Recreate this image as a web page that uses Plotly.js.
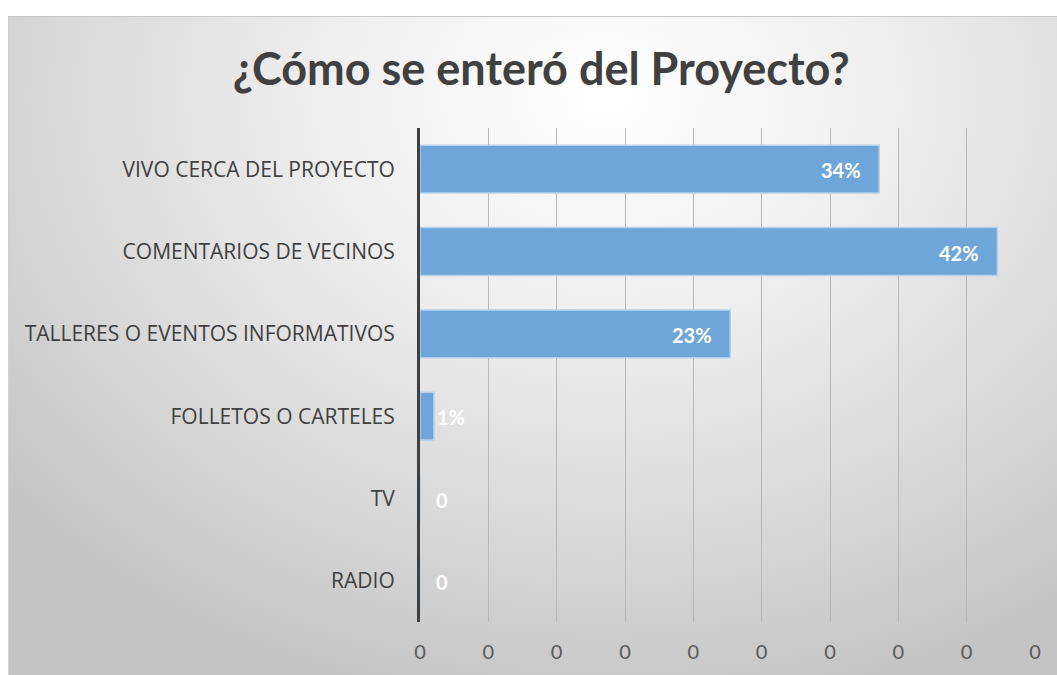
<!DOCTYPE html>
<html>
<head>
<meta charset="utf-8">
<script src="https://cdn.plot.ly/plotly-3.0.1.min.js"></script>
<style>
  html, body { margin: 0; padding: 0; background: #ffffff; }
  #wrap { position: relative; width: 1057px; height: 675px; overflow: hidden; }
  #bg { position: absolute; left: 8px; top: 16px; width: 1049px; height: 659px;
        border-top: 1px solid #c8c8c8; border-left: 1px solid #d0d0d0; box-sizing: border-box;
        background: radial-gradient(ellipse 75% 95% at 57% 12%, #ffffff 0%, #efefef 35%, #d9d9d9 70%, #c4c4c4 100%); }
  #chart { position: absolute; left: 0; top: 0; width: 1057px; height: 675px; }
</style>
</head>
<body>
<div id="wrap">
  <div id="bg"></div>
  <div id="chart"></div>
</div>
<script>
const categories = ["VIVO CERCA DEL PROYECTO", "COMENTARIOS DE VECINOS", "TALLERES O EVENTOS INFORMATIVOS", "FOLLETOS O CARTELES", "TV", "RADIO"];
const values = [0.336, 0.4225, 0.227, 0.0102, 0, 0];
const valueLabels = ["34%", "42%", "23%", "1%", "0", "0"];
const xTicks = [0, 0.05, 0.10, 0.15, 0.20, 0.25, 0.30, 0.35, 0.40, 0.45];

const labelFont = { family: "Lato, 'Open Sans', sans-serif", size: 20, color: "#ffffff", weight: "bold" };

const trace = {
  type: "bar",
  orientation: "h",
  y: categories,
  x: values,
  marker: { color: "#6fa6d9", line: { color: "#b4d2ee", width: 1.5 } },
  hoverinfo: "skip"
};

// data labels: inside-end for wide bars, just outside for tiny / zero bars
const annotations = categories.map((c, i) => {
  const v = values[i];
  let anchor, shift;
  if (v > 0.05) { anchor = "right"; shift = -16; }
  else if (v > 0) { anchor = "left"; shift = 1; }
  else { anchor = "left"; shift = 14; }
  return {
    x: v, y: c, xref: "x", yref: "y",
    text: valueLabels[i], showarrow: false,
    xanchor: anchor, xshift: shift, yshift: -1,
    font: labelFont
  };
});

const layout = {
  width: 1057, height: 675,
  paper_bgcolor: "rgba(0,0,0,0)",
  plot_bgcolor: "rgba(0,0,0,0)",
  margin: { l: 420, r: 22, t: 128, b: 53 },
  bargap: 0.42,
  showlegend: false,
  annotations: annotations,
  title: {
    text: "¿Cómo se enteró del Proyecto?",
    x: 0.512, xanchor: "center", y: 0.898, yanchor: "middle",
    font: { family: "Lato, 'Open Sans', sans-serif", size: 45, color: "#404040", weight: "bold" }
  },
  xaxis: {
    range: [0, 0.45],
    tickvals: xTicks,
    tickformat: ".0f",
    showgrid: true, gridcolor: "#b8b8b8", gridwidth: 1,
    zeroline: false, showline: false,
    ticks: "outside", ticklen: 12, tickcolor: "rgba(0,0,0,0)",
    tickfont: { family: "Lato, 'Open Sans', sans-serif", size: 20, color: "#595959" },
    fixedrange: true
  },
  yaxis: {
    type: "category",
    categoryorder: "array",
    categoryarray: categories,
    autorange: "reversed",
    showgrid: false, zeroline: false,
    showline: true, linecolor: "#404040", linewidth: 3,
    ticks: "outside", ticklen: 18, tickcolor: "rgba(0,0,0,0)",
    tickfont: { family: "'Open Sans', Lato, sans-serif", size: 21, color: "#404040" },
    fixedrange: true
  }
};

Plotly.newPlot("chart", [trace], layout, { displayModeBar: false, staticPlot: true });
</script>
</body>
</html>
